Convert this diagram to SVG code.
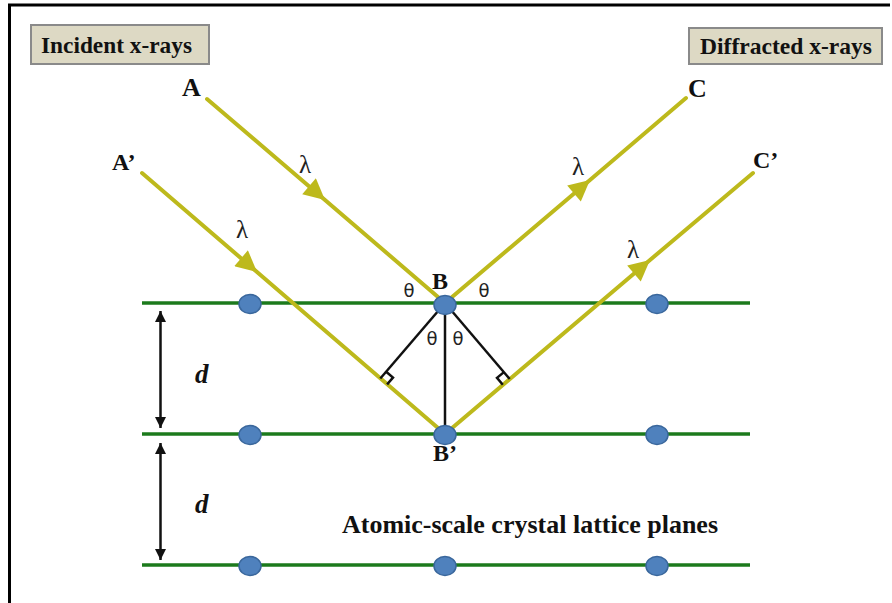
<svg xmlns="http://www.w3.org/2000/svg" width="892" height="603" viewBox="0 0 892 603">
<style>
.t{font-family:"Liberation Serif","Times New Roman",serif;font-weight:bold;fill:#111}
.box{fill:#ddd9c4;stroke:#8a8a8a;stroke-width:2}
.ray{fill:none;stroke:#bdb91c;stroke-width:4;stroke-linecap:round;marker-mid:url(#ah)}
.plane{stroke:#1c7a1c;stroke-width:3.5}
.atom{fill:#4f81bd;stroke:#3a679c;stroke-width:1.5}
.blk{stroke:#111;stroke-width:2.5;fill:none}
.lam{font-family:"Liberation Serif",serif;font-size:25px;fill:#222}
.th{font-family:"DejaVu Sans",sans-serif;font-size:18px;fill:#222}
</style>
<defs>
<marker id="ah" viewBox="0 0 10 10" refX="10" refY="5" markerUnits="userSpaceOnUse" markerWidth="26" markerHeight="21" orient="auto"><path d="M0,0 L10,5 L0,10 z" fill="#bdb91c"/></marker>
<marker id="bk" viewBox="0 0 10 10" refX="10" refY="5" markerUnits="userSpaceOnUse" markerWidth="14" markerHeight="11" orient="auto-start-reverse"><path d="M0,0 L10,5 L0,10 z" fill="#111"/></marker>
</defs>
<rect width="892" height="603" fill="#fff"/>
<path d="M9.5,603 V5 H890" fill="none" stroke="#000" stroke-width="3"/>

<g id="incident-label"><rect class="box" x="31" y="25" width="178" height="39"/><text class="t" x="41" y="53" font-size="24" textLength="151" lengthAdjust="spacingAndGlyphs">Incident x-rays</text></g>
<g id="diffracted-label"><rect class="box" x="689" y="28" width="193" height="36"/><text class="t" x="700" y="54" font-size="24" textLength="172" lengthAdjust="spacingAndGlyphs">Diffracted x-rays</text></g>

<g id="planes">
<line class="plane" x1="142" y1="303" x2="750" y2="303"/>
<line class="plane" x1="142" y1="434" x2="750" y2="434"/>
<line class="plane" x1="142" y1="565" x2="750" y2="565"/>
</g>

<g id="connectors">
<path class="ray" d="M207,99 L325,200 L445,303"/>
<path class="ray" d="M142,173 L257,272 L445,434"/>
<path class="ray" d="M445,303 L590,180 L686,98"/>
<path class="ray" d="M445,434 L650,260 L753,173"/>
<line class="blk" x1="445" y1="303" x2="445" y2="434"/>
<line class="blk" x1="445" y1="303" x2="380.3" y2="378.5"/>
<line class="blk" x1="445" y1="303" x2="509.7" y2="379"/>
<polyline class="blk" stroke-width="2" points="387.1,384.4 393,377.6 386.2,371.7"/>
<polyline class="blk" stroke-width="2" points="502.8,384.8 497,377.9 503.9,372.1"/>
<line class="blk" stroke-width="3" x1="160.5" y1="311" x2="160.5" y2="428" marker-start="url(#bk)" marker-end="url(#bk)"/>
<line class="blk" stroke-width="3" x1="160.5" y1="443" x2="160.5" y2="560" marker-start="url(#bk)" marker-end="url(#bk)"/>
</g>

<g id="atoms">
<ellipse class="atom" cx="250" cy="304" rx="11" ry="9.5"/>
<ellipse class="atom" cx="445" cy="305" rx="11" ry="9.5"/>
<ellipse class="atom" cx="657" cy="304" rx="11" ry="9.5"/>
<ellipse class="atom" cx="250" cy="435" rx="11" ry="9.5"/>
<ellipse class="atom" cx="445" cy="435" rx="11" ry="9.5"/>
<ellipse class="atom" cx="657" cy="435" rx="11" ry="9.5"/>
<ellipse class="atom" cx="250" cy="566" rx="11" ry="9.5"/>
<ellipse class="atom" cx="445" cy="566" rx="11" ry="9.5"/>
<ellipse class="atom" cx="657" cy="566" rx="11" ry="9.5"/>
</g>

<g id="point-labels">
<text class="t" x="182" y="96" font-size="26">A</text>
<text class="t" x="112" y="170" font-size="24">A’</text>
<text class="t" x="688" y="97" font-size="26">C</text>
<text class="t" x="753" y="168" font-size="24">C’</text>
<text class="t" x="432" y="289" font-size="24">B</text>
<text class="t" x="433" y="461" font-size="24">B’</text>
</g>

<g id="wavelengths">
<text class="lam" x="305" y="173" text-anchor="middle">λ</text>
<text class="lam" x="242" y="238" text-anchor="middle">λ</text>
<text class="lam" x="578" y="175" text-anchor="middle">λ</text>
<text class="lam" x="633" y="258" text-anchor="middle">λ</text>
</g>

<g id="angles">
<text class="th" x="409" y="297" text-anchor="middle">θ</text>
<text class="th" x="484" y="297" text-anchor="middle">θ</text>
<text class="th" x="432" y="345" text-anchor="middle">θ</text>
<text class="th" x="458" y="345" text-anchor="middle">θ</text>
</g>

<g id="spacing-labels">
<text class="t" x="195" y="383" font-size="27" font-style="italic">d</text>
<text class="t" x="195" y="513" font-size="27" font-style="italic">d</text>
</g>

<g id="caption"><text class="t" x="342" y="533" font-size="25" textLength="376" lengthAdjust="spacingAndGlyphs">Atomic-scale crystal lattice planes</text></g>
</svg>
